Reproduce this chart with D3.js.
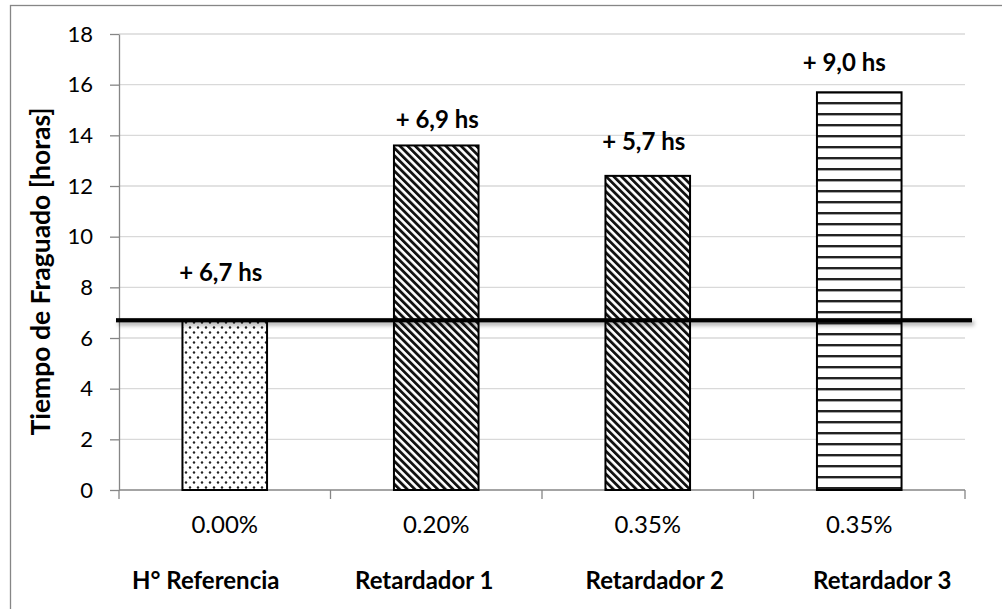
<!DOCTYPE html>
<html>
<head>
<meta charset="utf-8">
<script src="https://cdn.jsdelivr.net/npm/d3@7/dist/d3.min.js"></script>
<style>
  html, body { margin: 0; padding: 0; background: #fff; }
  svg { display: block; font-family: Lato, "Open Sans", sans-serif; }
</style>
</head>
<body>
<svg id="chart" width="1002" height="609"></svg>
<script>
// Setting time (hours) per mix
const mixes = ["H° Referencia", "Retardador 1", "Retardador 2", "Retardador 3"];
const dosages = ["0.00%", "0.20%", "0.35%", "0.35%"];
const setTimes = [6.7, 13.6, 12.4, 15.7];
const referenceTime = 6.7;
const yTicks = [0, 2, 4, 6, 8, 10, 12, 14, 16, 18];
const fills = ["dots", "diag", "diag", "hlines"];

// Layout
const W = 1002, H = 609;
const plot = { left: 119, right: 965, top: 34, bottom: 490 };
const gainLabelShift = [{ dx: -4, dy: 39 }, { dx: 1, dy: 17 }, { dx: -4, dy: 26 }, { dx: -15, dy: 21 }];
const nameShift = [-19, -12, 7, 23];

const svg = d3.select("#chart");
const defs = svg.append("defs");

// Fill patterns
const pDots = defs.append("pattern").attr("id", "dots")
  .attr("patternUnits", "userSpaceOnUse").attr("width", 8).attr("height", 10);
pDots.append("rect").attr("width", 8).attr("height", 10).attr("fill", "#fff");
pDots.append("circle").attr("cx", 2).attr("cy", 2.5).attr("r", 1.2).attr("fill", "#222");
pDots.append("circle").attr("cx", 6).attr("cy", 7.5).attr("r", 1.2).attr("fill", "#222");

const pDiag = defs.append("pattern").attr("id", "diag")
  .attr("patternUnits", "userSpaceOnUse").attr("width", 5.4).attr("height", 10)
  .attr("patternTransform", "rotate(-45)");
pDiag.append("rect").attr("width", 5.4).attr("height", 10).attr("fill", "#fff");
pDiag.append("rect").attr("width", 2.8).attr("height", 10).attr("fill", "#111");

const pH = defs.append("pattern").attr("id", "hlines")
  .attr("patternUnits", "userSpaceOnUse").attr("width", 10).attr("height", 11);
pH.append("rect").attr("width", 10).attr("height", 11).attr("fill", "#fff");
pH.append("rect").attr("y", 3).attr("width", 10).attr("height", 2.4).attr("fill", "#222");

// Soft shadow for the reference line
const shadow = defs.append("filter").attr("id", "shadow")
  .attr("filterUnits", "userSpaceOnUse")
  .attr("x", 0).attr("y", 290).attr("width", W).attr("height", 60);
shadow.append("feDropShadow").attr("dx", 2).attr("dy", 3).attr("stdDeviation", 2)
  .attr("flood-color", "#000").attr("flood-opacity", 0.35);

// Chart frame
svg.append("rect").attr("x", 10.5).attr("y", 5.5).attr("width", 1000).attr("height", 620)
  .attr("fill", "none").attr("stroke", "#868686").attr("stroke-width", 1.3);

// Scales
const x = d3.scaleBand().domain(d3.range(mixes.length))
  .range([plot.left, plot.right]).paddingInner(0.6).paddingOuter(0.3);
const y = d3.scaleLinear().domain([0, 18]).range([plot.bottom, plot.top]);

// Gridlines
svg.append("g").selectAll("line").data(yTicks.filter(d => d > 0)).join("line")
  .attr("x1", plot.left).attr("x2", plot.right)
  .attr("y1", d => y(d)).attr("y2", d => y(d))
  .attr("stroke", "#d9d9d9").attr("stroke-width", 1.3);

// Y axis
const yAxis = svg.append("g").attr("transform", `translate(${plot.left},0)`)
  .call(d3.axisLeft(y).tickValues(yTicks).tickSize(9).tickPadding(17).tickSizeOuter(0));
yAxis.select(".domain").attr("stroke", "#868686").attr("stroke-width", 1.3);
yAxis.selectAll(".tick line").attr("stroke", "#868686").attr("stroke-width", 1.3);
yAxis.selectAll(".tick text").attr("font-size", 22).attr("fill", "#000")
  .attr("font-family", "Lato, sans-serif");

// X axis with boundary ticks
const step = x.step();
const bounds = d3.range(mixes.length + 1).map(i => plot.left + i * step);
svg.append("line").attr("x1", plot.left).attr("x2", plot.right)
  .attr("y1", plot.bottom).attr("y2", plot.bottom)
  .attr("stroke", "#868686").attr("stroke-width", 1.3);
svg.append("g").selectAll("line").data(bounds).join("line")
  .attr("x1", d => d).attr("x2", d => d)
  .attr("y1", plot.bottom).attr("y2", plot.bottom + 9)
  .attr("stroke", "#868686").attr("stroke-width", 1.3);

// Bars
svg.append("g").selectAll("rect").data(setTimes).join("rect")
  .attr("x", (d, i) => x(i)).attr("width", x.bandwidth())
  .attr("y", d => y(d)).attr("height", d => y(0) - y(d))
  .attr("fill", (d, i) => `url(#${fills[i]})`)
  .attr("stroke", "#000").attr("stroke-width", 2);

// Reference setting time line
svg.append("rect")
  .attr("x", plot.left - 3).attr("width", plot.right + 7 - (plot.left - 3))
  .attr("y", y(referenceTime) - 2.1).attr("height", 4.2)
  .attr("fill", "#000")
  .attr("filter", "url(#shadow)");

// Gain labels
const fmt = v => "+ " + v.toFixed(1).replace(".", ",") + " hs";
svg.append("g").selectAll("text").data(setTimes).join("text")
  .attr("x", (d, i) => x(i) + x.bandwidth() / 2 + gainLabelShift[i].dx)
  .attr("y", (d, i) => y(d) - gainLabelShift[i].dy)
  .attr("text-anchor", "middle").attr("font-weight", "bold").attr("font-size", 24)
  .text((d, i) => fmt(i === 0 ? d : d - referenceTime));

// Category labels
svg.append("g").selectAll("text").data(dosages).join("text")
  .attr("x", (d, i) => x(i) + x.bandwidth() / 2)
  .attr("y", 533).attr("text-anchor", "middle").attr("font-size", 24)
  .text(d => d);
svg.append("g").selectAll("text").data(mixes).join("text")
  .attr("x", (d, i) => x(i) + x.bandwidth() / 2 + nameShift[i])
  .attr("y", 589).attr("text-anchor", "middle").attr("font-size", 24)
  .attr("font-weight", "bold")
  .text(d => d);

// Y axis title
svg.append("text")
  .attr("transform", `translate(50,${(100 + 443) / 2}) rotate(-90)`)
  .attr("text-anchor", "middle").attr("font-size", 26.5).attr("font-weight", "bold")
  .text("Tiempo de Fraguado [horas]");
</script>
</body>
</html>
